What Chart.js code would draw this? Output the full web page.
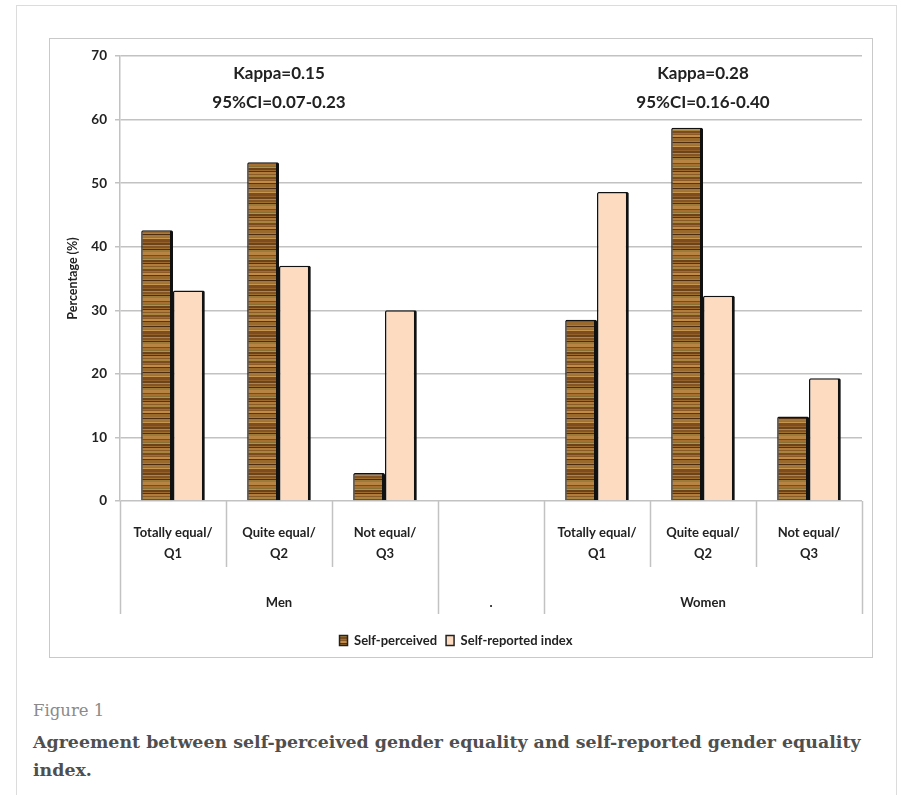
<!DOCTYPE html>
<html>
<head>
<meta charset="utf-8">
<script src="https://cdn.jsdelivr.net/npm/chart.js@4.4.1/dist/chart.umd.min.js"></script>
<style>
  html, body { margin: 0; padding: 0; background: #fff; width: 901px; height: 795px; overflow: hidden; }
  #frame { position: absolute; left: 16px; top: 5px; width: 881px; height: 800px; border: 1px solid #dcdcdc; box-sizing: border-box; }
  #box { position: absolute; left: 49px; top: 38px; width: 824px; height: 620px; border: 1.5px solid #c9c9c9; box-sizing: border-box; }
  #wrap { position: absolute; left: 50px; top: 39px; width: 822px; height: 618px; }
  #fig { position: absolute; left: 33px; top: 701px; font-family: "DejaVu Serif", serif; color: #8a8a8a; font-size: 16.5px; }
  #cap { position: absolute; left: 33px; top: 728px; font-family: "DejaVu Serif", serif; font-weight: bold; color: #4f4f4f; font-size: 17.4px; line-height: 28px; white-space: nowrap; }
</style>
</head>
<body>
<div id="frame"></div>
<div id="box"></div>
<div id="wrap"><canvas id="chart" width="822" height="618"></canvas></div>
<div id="fig">Figure 1</div>
<div id="cap">Agreement between self-perceived gender equality and self-reported gender equality<br>index.</div>
<script>
// Categories (the empty slot separates the two sexes)
const categories = [
  ['Totally equal/', 'Q1'], ['Quite equal/', 'Q2'], ['Not equal/', 'Q3'],
  ['', ''],
  ['Totally equal/', 'Q1'], ['Quite equal/', 'Q2'], ['Not equal/', 'Q3']
];
const seriesNames = ['Self-perceived', 'Self-reported index'];
const selfPerceived = [42.6, 53.3, 4.4, null, 28.5, 58.7, 13.3];
const selfReported  = [33.1, 37.0, 30.0, null, 48.6, 32.3, 19.3];
const groups = [
  { label: 'Men',   from: 0, to: 2 },
  { label: '.',     from: 3, to: 3 },
  { label: 'Women', from: 4, to: 6 }
];
const kappaNotes = [
  { at: 1, lines: ['Kappa=0.15', '95%CI=0.07-0.23'] },
  { at: 5, lines: ['Kappa=0.28', '95%CI=0.16-0.40'] }
];
const yTicks = [0, 10, 20, 30, 40, 50, 60, 70];

// Wood-grain fill for the self-perceived bars
function woodPattern() {
  const stripes = [
    ['#7b4a1e', 2], ['#a56b2f', 1], ['#8c5a25', 1], ['#c28b47', 2], ['#5a3413', 1],
    ['#9a6a2c', 3], ['#b07a3a', 1], ['#4e2c10', 1], ['#a3773a', 2], ['#8f7a36', 1],
    ['#c69550', 1], ['#7d4d20', 3], ['#94612a', 1], ['#6b4419', 2], ['#b5843f', 1],
    ['#845424', 2], ['#a0702f', 1], ['#4f2d11', 1], ['#9c7a3b', 2], ['#b88443', 3],
    ['#7a4b1f', 1], ['#a86f31', 2], ['#8a7030', 1], ['#c08a49', 1], ['#6e4219', 2],
    ['#9d6b2d', 1], ['#57330f', 1], ['#b27d3c', 2], ['#8b5b27', 1], ['#a9843f', 2]
  ];
  const h = stripes.reduce((s, d) => s + d[1], 0);
  const c = document.createElement('canvas');
  c.width = 16; c.height = h;
  const g = c.getContext('2d');
  let y = 0;
  stripes.forEach(([col, t]) => { g.fillStyle = col; g.fillRect(0, y, 16, t); y += t; });
  return g.createPattern(c, 'repeat');
}
const wood = woodPattern();
const peach = '#fcdbc0';
const gridGray = '#c2c2c2';
const textColor = '#222';
const labelFont = 'Lato, "Open Sans", sans-serif';

// Separator lines, group names and kappa notes drawn from the scales
const decorations = {
  id: 'decorations',
  afterDraw(chart) {
    const { ctx, scales: { x, y } } = chart;
    const half = (x.getPixelForValue(1) - x.getPixelForValue(0)) / 2;
    const base = y.getPixelForValue(0);
    const groupEdges = new Set();
    groups.forEach(g => { groupEdges.add(g.from); groupEdges.add(g.to + 1); });
    ctx.save();
    ctx.strokeStyle = gridGray;
    ctx.lineWidth = 1.5;
    for (let i = 0; i <= categories.length; i++) {
      const px = Math.round(x.getPixelForValue(0) - half + i * 2 * half) + 0.5;
      const len = groupEdges.has(i) ? 113 : 66;
      ctx.beginPath(); ctx.moveTo(px, base); ctx.lineTo(px, base + len); ctx.stroke();
    }
    ctx.fillStyle = textColor;
    ctx.font = 'bold 13px ' + labelFont;
    ctx.textAlign = 'center';
    ctx.textBaseline = 'middle';
    groups.forEach(g => {
      const cx = (x.getPixelForValue(g.from) + x.getPixelForValue(g.to)) / 2;
      ctx.fillText(g.label, cx, base + 102);
    });
    ctx.font = 'bold 17px ' + labelFont;
    kappaNotes.forEach(n => {
      const cx = x.getPixelForValue(n.at);
      ctx.fillText(n.lines[0], cx, y.getPixelForValue(67.2));
      ctx.fillText(n.lines[1], cx, y.getPixelForValue(62.7));
    });
    ctx.restore();
  }
};

new Chart(document.getElementById('chart'), {
  type: 'bar',
  data: {
    labels: categories,
    datasets: [
      { label: seriesNames[0], data: selfPerceived, backgroundColor: wood,
        borderColor: '#111', borderWidth: { top: 1.5, left: 1.5, right: 3, bottom: 0 }, borderRadius: 1.5 },
      { label: seriesNames[1], data: selfReported, backgroundColor: peach,
        borderColor: '#111', borderWidth: { top: 1.5, left: 1.5, right: 3, bottom: 0 }, borderRadius: 1.5 }
    ]
  },
  options: {
    responsive: false,
    animation: false,
    devicePixelRatio: 1,
    categoryPercentage: 0.6,
    barPercentage: 1.0,
    layout: { padding: { top: 17, right: 10, bottom: 0, left: 0 } },
    plugins: {
      tooltip: { enabled: false },
      legend: {
        position: 'bottom',
        labels: {
          color: textColor,
          font: { family: labelFont, size: 13, weight: 'bold' },
          boxWidth: 8, boxHeight: 10, padding: 9,
          generateLabels(chart) {
            return chart.data.datasets.map((d, i) => ({
              text: d.label, fillStyle: d.backgroundColor, strokeStyle: '#222',
              lineWidth: 1.5, datasetIndex: i, fontColor: textColor
            }));
          }
        }
      }
    },
    scales: {
      x: {
        grid: { display: false },
        border: { display: false },
        ticks: {
          color: textColor, padding: 13, maxRotation: 0, autoSkip: false,
          font: { family: labelFont, size: 13, weight: 'bold', lineHeight: 1.65 }
        },
        afterFit(s) { s.height = 124; }
      },
      y: {
        min: 0, max: 70,
        afterBuildTicks(s) { s.ticks = yTicks.map(v => ({ value: v })); },
        grid: { color: gridGray, lineWidth: 1.5, tickLength: 5 },
        border: { color: gridGray, width: 1.5 },
        ticks: { color: textColor, padding: 8, font: { family: labelFont, size: 13.5, weight: 'bold' } },
        title: {
          display: true, text: 'Percentage (%)', color: textColor,
          font: { family: labelFont, size: 12.5, weight: 'bold' }, padding: { top: 15, bottom: 0 }
        },
        afterFit(s) { s.width = 70; }
      }
    }
  },
  plugins: [decorations]
});
</script>
</body>
</html>
